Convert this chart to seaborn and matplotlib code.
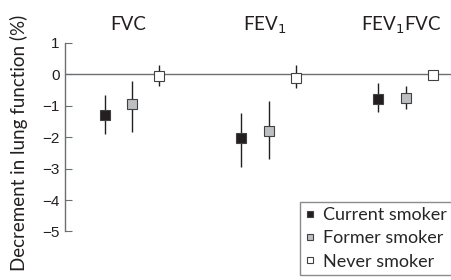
import numpy as np
import matplotlib
matplotlib.use('Agg')
import matplotlib.pyplot as plt
import seaborn as sns

sns.set_style('ticks')
plt.rcParams['font.family'] = ['Lato', 'DejaVu Sans']

# measures and smoker groups
measures = ['FVC', 'FEV$_1$', 'FEV$_1$FVC']
groups = ['Current smoker', 'Former smoker', 'Never smoker']

# estimate, lower and upper limit per group (one value per measure)
current_est = [-1.30, -2.04, -0.78]
current_lo = [-1.90, -2.94, -1.22]
current_hi = [-0.67, -1.24, -0.30]

former_est = [-0.96, -1.81, -0.77]
former_lo = [-1.83, -2.70, -1.12]
former_hi = [-0.22, -0.85, -0.38]

never_est = [-0.06, -0.13, -0.04]
never_lo = [-0.38, -0.44, -0.15]
never_hi = [0.28, 0.28, 0.13]

yticks = [1, 0, -1, -2, -3, -4, -5]

series = [
    (current_est, current_lo, current_hi, '#231f20'),
    (former_est, former_lo, former_hi, '#bcbec0'),
    (never_est, never_lo, never_hi, 'white'),
]
offsets = [-0.2, 0.0, 0.2]

fig = plt.figure(figsize=(4.52, 2.80), dpi=100)
ax = fig.add_axes([65 / 452, 0, 1 - 65 / 452, 1])

ax.axhline(0, color='#6d6e71', lw=1.0, zorder=1)

base = np.arange(len(measures))
for (est, lo, hi, col), off, name in zip(series, offsets, groups):
    est = np.array(est)
    err = np.vstack([est - np.array(lo), np.array(hi) - est])
    ax.errorbar(base + off, est, yerr=err, fmt='none', ecolor='#231f20',
                elinewidth=1.0, capsize=0, zorder=2)
    ax.plot(base + off, est, ls='none', marker='s', ms=7, mfc=col,
            mec='#414042', mew=0.8, zorder=3, label=name)

for i, m in enumerate(measures):
    ax.text(i - 0.03, 1.56, m, ha='center', va='center', fontsize=13.5,
            color='#231f20')

ax.set_xlim(-0.49, 2.34)
ax.set_ylim(-6.54, 2.35)
ax.set_yticks(yticks)
ax.set_yticklabels([str(t).replace('-', '\u2212') for t in yticks],
                   fontsize=11, color='#231f20', family='Liberation Sans')
ax.tick_params(axis='y', direction='in', length=5, width=0.8, color='#6d6e71', pad=4)
ax.set_xticks([])
ax.spines['left'].set_bounds(-5, 1)
ax.spines['left'].set_color('#6d6e71')
ax.spines['left'].set_linewidth(1.0)
for s in ['top', 'right', 'bottom']:
    ax.spines[s].set_visible(False)

ax.set_ylabel('Decrement in lung function (%)', fontsize=13.5, color='#231f20')
ax.yaxis.set_label_coords(-37 / 387, 0.49)

leg = ax.legend(loc='lower right', bbox_to_anchor=(1.0, 0.018), fontsize=13,
                frameon=True, fancybox=False, handlelength=0.45, handletextpad=0.5,
                borderpad=0.3, labelspacing=0.4, markerscale=0.7,
                borderaxespad=0.0)
leg.get_frame().set_edgecolor('#6d6e71')
leg.get_frame().set_linewidth(1.0)

fig.savefig('out.png', dpi=100)
